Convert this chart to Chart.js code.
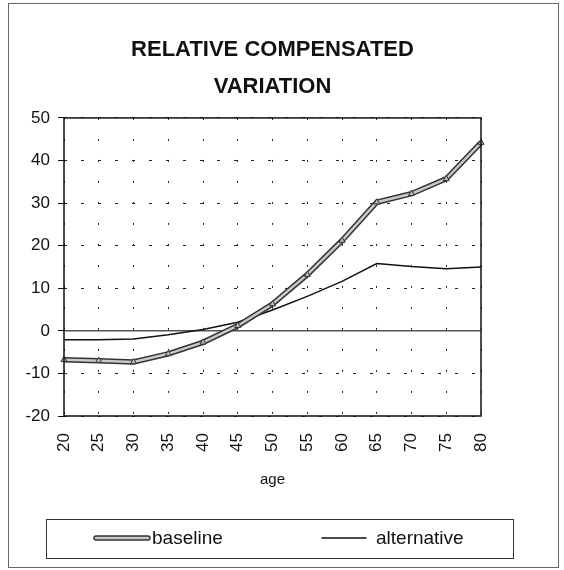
<!DOCTYPE html>
<html>
<head>
  <title>Relative Compensated Variation</title>
  <meta charset="UTF-8">
  <script src="https://cdn.jsdelivr.net/npm/chart.js"></script>
  <style>
    body { margin: 0; background: #fff; }
    #wrap { width: 564px; height: 570px; position: relative; }
  </style>
</head>
<body>
  <div id="wrap">
    <canvas id="grafik"></canvas>
  </div>

  <script>
    // data
    const ages = ['20', '25', '30', '35', '40', '45', '50', '55', '60', '65', '70', '75', '80'];
    const baseline = [-6.8, -7.0, -7.3, -5.4, -2.7, 1.2, 6.3, 13.2, 21.2, 30.2, 32.2, 35.7, 44.2];
    const alternative = [-2.1, -2.1, -1.9, -0.9, 0.3, 2.0, 4.9, 8.1, 11.6, 15.8, 15.1, 14.6, 15.0];
    const yTicks = { min: -20, max: 50, step: 10 };
    const legendItems = ['baseline', 'alternative'];

    const fontName = "'Liberation Sans', Arial, sans-serif";

    // zero line, plot frame, legend box and outer frame
    const rahmen = {
      id: 'rahmen',
      beforeDatasetsDraw(chart) {
        const { ctx, chartArea: a, scales } = chart;
        const y0 = scales.y.getPixelForValue(0);
        ctx.save();
        ctx.strokeStyle = '#555';
        ctx.lineWidth = 1.5;
        ctx.beginPath();
        ctx.moveTo(a.left, y0);
        ctx.lineTo(a.right, y0);
        ctx.stroke();
        ctx.restore();
      },
      afterDraw(chart) {
        const { ctx, chartArea: a } = chart;
        ctx.save();
        ctx.strokeStyle = '#111';
        ctx.lineWidth = 1.5;
        ctx.strokeRect(a.left, a.top, a.right - a.left, a.bottom - a.top);

        // outer frame
        ctx.strokeStyle = '#666';
        ctx.lineWidth = 1;
        ctx.strokeRect(8.5, 3.5, 550, 564);

        // legend
        ctx.strokeStyle = '#333';
        ctx.strokeRect(46.5, 519.5, 467, 39);
        const ly = 538;
        ctx.lineCap = 'round';
        ctx.strokeStyle = '#333';
        ctx.lineWidth = 5.5;
        ctx.beginPath(); ctx.moveTo(96, ly); ctx.lineTo(148, ly); ctx.stroke();
        ctx.strokeStyle = '#c8c8c8';
        ctx.lineWidth = 2.5;
        ctx.beginPath(); ctx.moveTo(96, ly); ctx.lineTo(148, ly); ctx.stroke();
        ctx.strokeStyle = '#111';
        ctx.lineWidth = 1.5;
        ctx.beginPath(); ctx.moveTo(322, ly); ctx.lineTo(366, ly); ctx.stroke();

        ctx.fillStyle = '#111';
        ctx.font = '19px ' + fontName;
        ctx.textBaseline = 'middle';
        ctx.fillText(legendItems[0], 152, ly + 1);
        ctx.fillText(legendItems[1], 376, ly + 1);
        ctx.restore();
      }
    };

    const ctx = document.getElementById('grafik').getContext('2d');
    const chart = new Chart(ctx, {
      type: 'line',
      data: {
        labels: ages,
        datasets: [
          {
            label: 'baseline',
            data: baseline,
            borderColor: '#c8c8c8',
            borderWidth: 2.5,
            pointStyle: 'triangle',
            pointRadius: 3.5,
            pointBackgroundColor: '#bbb',
            pointBorderColor: '#333',
            pointBorderWidth: 1,
            tension: 0
          },
          {
            label: 'baseline outline',
            data: baseline,
            borderColor: '#333',
            borderWidth: 5.5,
            pointRadius: 0,
            tension: 0
          },
          {
            label: 'alternative',
            data: alternative,
            borderColor: '#111',
            borderWidth: 1.5,
            pointRadius: 0,
            tension: 0
          }
        ]
      },
      options: {
        responsive: true,
        maintainAspectRatio: false,
        animation: false,
        layout: { padding: { left: 22, right: 83, top: 0, bottom: 79 } },
        plugins: {
          legend: { display: false },
          tooltip: { enabled: false },
          title: {
            display: true,
            fullSize: false,
            text: ['RELATIVE COMPENSATED', 'VARIATION'],
            color: '#111',
            font: { family: fontName, size: 22, weight: 'bold', lineHeight: 1.68 },
            padding: { top: 31, bottom: 13 }
          }
        },
        scales: {
          x: {
            type: 'category',
            offset: false,
            afterFit(axis) { axis.height = 75; },
            grid: { color: '#222', drawTicks: false },
            border: { display: false, dash: [2, 19] },
            ticks: {
              color: '#111',
              minRotation: 90,
              maxRotation: 90,
              padding: 17,
              font: { family: fontName, size: 17 }
            },
            title: {
              display: true,
              text: 'age',
              color: '#111',
              font: { family: fontName, size: 15 },
              padding: { top: 0, bottom: 2 }
            }
          },
          y: {
            min: yTicks.min,
            max: yTicks.max,
            afterFit(axis) { axis.width = 42; },
            grid: { color: '#222', tickLength: 6, tickColor: '#111', tickBorderDash: [] },
            border: { display: false, dash: [3, 14] },
            ticks: {
              stepSize: yTicks.step,
              color: '#111',
              padding: 8,
              font: { family: fontName, size: 17 }
            }
          }
        }
      },
      plugins: [rahmen]
    });
  </script>
</body>
</html>
